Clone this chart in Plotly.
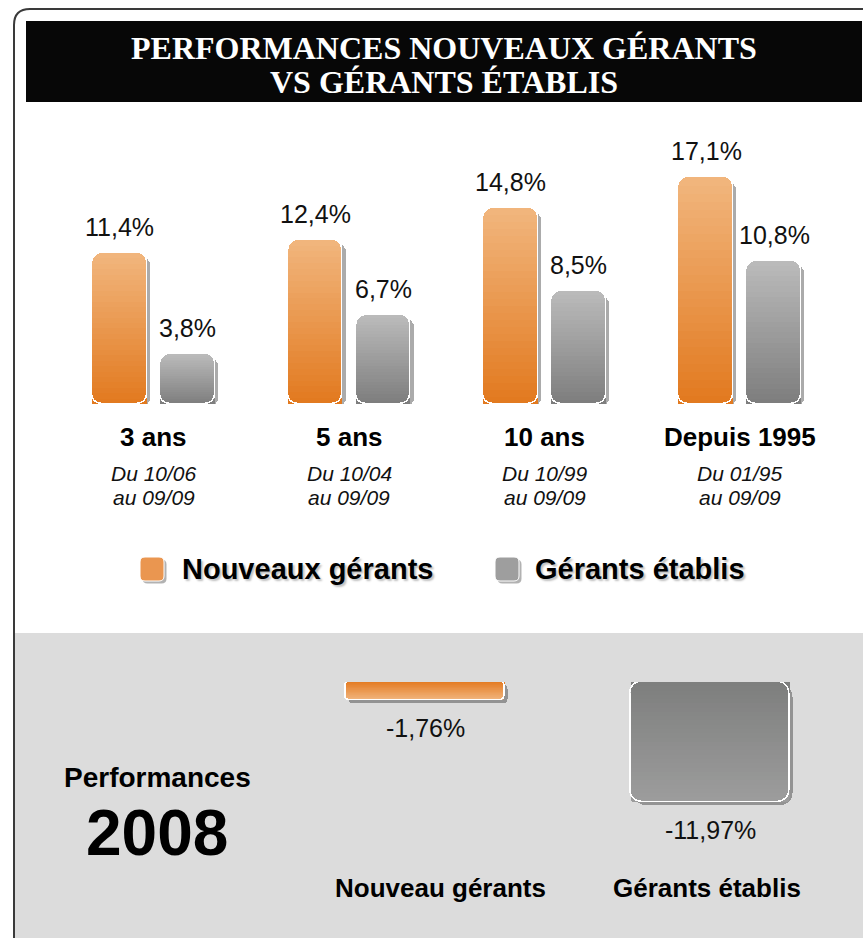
import numpy as np
import plotly.graph_objects as go

W, H = 863, 938

# ---------------- data ----------------
title_lines = ["PERFORMANCES NOUVEAUX GÉRANTS", "VS GÉRANTS ÉTABLIS"]
periods = ["3 ans", "5 ans", "10 ans", "Depuis 1995"]
start_dates = ["10/06", "10/04", "10/99", "01/95"]
end_dates = ["09/09", "09/09", "09/09", "09/09"]
series_names = ["Nouveaux gérants", "Gérants établis"]
nouveaux = [11.4, 12.4, 14.8, 17.1]
etablis = [3.8, 6.7, 8.5, 10.8]
perf2008_title = "Performances"
perf2008_year = "2008"
perf2008_labels = ["Nouveau gérants", "Gérants établis"]
perf2008 = [-1.76, -11.97]


def px(x):
    return x / W


def py(y):
    return 1 - y / H


def hex2rgb(h):
    h = h.lstrip("#")
    return [int(h[i:i + 2], 16) for i in (0, 2, 4)]


def lerp(c1, c2, t):
    a, b = hex2rgb(c1), hex2rgb(c2)
    return "rgb(%d,%d,%d)" % tuple(round(a[i] + (b[i] - a[i]) * t) for i in range(3))


def rrect(x0, y0, x1, y1, r):
    return (f"M {px(x0 + r)},{py(y0)} L {px(x1 - r)},{py(y0)} "
            f"Q {px(x1)},{py(y0)} {px(x1)},{py(y0 + r)} L {px(x1)},{py(y1 - r)} "
            f"Q {px(x1)},{py(y1)} {px(x1 - r)},{py(y1)} L {px(x0 + r)},{py(y1)} "
            f"Q {px(x0)},{py(y1)} {px(x0)},{py(y1 - r)} L {px(x0)},{py(y0 + r)} "
            f"Q {px(x0)},{py(y0)} {px(x0 + r)},{py(y0)} Z")


def fmt(v, d):
    return (f"{v:.{d}f}").replace(".", ",") + "%"


K = 28
fig = go.Figure()

# ---------------- top chart ----------------
pos = np.arange(len(periods))
dx = [-0.174, 0.174]
bw = 0.28
top_series = [
    (nouveaux, "#E27A20", "#F1B57C"),
    (etablis, "#7E7E7E", "#BABABA"),
]
for s, (vals, c_base, c_tip) in enumerate(top_series):
    xs = pos + dx[s]
    fig.add_trace(go.Bar(x=xs + 0.017, y=vals, base=-0.24, width=bw, xaxis="x", yaxis="y",
                         marker=dict(color="rgba(0,0,0,0.33)", line=dict(width=0), cornerradius=10),
                         hoverinfo="skip", showlegend=False))
for s, (vals, c_base, c_tip) in enumerate(top_series):
    xs = pos + dx[s]
    for j in range(K):
        fig.add_trace(go.Bar(x=xs, y=[v / K for v in vals], width=bw, xaxis="x", yaxis="y",
                             marker=dict(color=lerp(c_base, c_tip, j / (K - 1)), line=dict(width=0),
                                         cornerradius=10),
                             hoverinfo="skip", showlegend=False))
for s, (vals, c_base, c_tip) in enumerate(top_series):
    xs = pos + dx[s]
    fig.add_trace(go.Bar(x=xs, y=vals, base=0, width=bw, xaxis="x", yaxis="y",
                         marker=dict(color="rgba(0,0,0,0)", line=dict(color="white", width=1.5),
                                     cornerradius=10),
                         hoverinfo="skip", showlegend=False))

# ---------------- bottom chart ----------------
pos2 = np.arange(len(perf2008))
bw2 = 0.558
bot_colors = [("#E47B22", "#F0B27A", 4), ("#7E7F7E", "#9C9C9C", 12)]
for k in range(len(perf2008)):
    c_base, c_tip, rad = bot_colors[k]
    fig.add_trace(go.Bar(x=[pos2[k] + 0.012], y=[perf2008[k]], base=-0.3, width=bw2, xaxis="x2", yaxis="y2",
                         marker=dict(color="rgba(0,0,0,0.33)", line=dict(width=0), cornerradius=rad),
                         hoverinfo="skip", showlegend=False))
for k in range(len(perf2008)):
    c_base, c_tip, rad = bot_colors[k]
    for j in range(K):
        fig.add_trace(go.Bar(x=[pos2[k]], y=[perf2008[k] / K], width=bw2, xaxis="x2", yaxis="y2",
                             marker=dict(color=lerp(c_base, c_tip, j / (K - 1)), line=dict(width=0),
                                         cornerradius=rad),
                             hoverinfo="skip", showlegend=False))
for k in range(len(perf2008)):
    c_base, c_tip, rad = bot_colors[k]
    fig.add_trace(go.Bar(x=[pos2[k]], y=[perf2008[k]], base=0, width=bw2, xaxis="x2", yaxis="y2",
                         marker=dict(color="rgba(0,0,0,0)", line=dict(color="white", width=1.5),
                                     cornerradius=rad),
                         hoverinfo="skip", showlegend=False))

# ---------------- shapes ----------------
shapes = [
    dict(type="rect", xref="paper", yref="paper", x0=px(15), x1=1, y0=0, y1=py(633),
         fillcolor="#DCDCDC", line=dict(width=0), layer="below"),
    dict(type="path", xref="paper", yref="paper",
         path=f"M {px(14)},0 L {px(14)},{py(25)} Q {px(14)},{py(9)} {px(30)},{py(9)} L 1,{py(9)}",
         line=dict(color="#3a3a3a", width=2), layer="below"),
    dict(type="rect", xref="paper", yref="paper", x0=px(26), x1=px(862), y0=py(102), y1=py(21),
         fillcolor="#070707", line=dict(width=0), layer="below"),
]
legend_icons = [(140, "#EA9650"), (495, "#9E9E9E")]
for x0, col in legend_icons:
    shapes.append(dict(type="path", xref="paper", yref="paper", path=rrect(x0 + 2.5, 559.5, x0 + 26.5, 583.5, 5),
                       fillcolor="rgba(0,0,0,0.3)", line=dict(width=0), layer="below"))
    shapes.append(dict(type="path", xref="paper", yref="paper", path=rrect(x0, 557, x0 + 24, 581, 5),
                       fillcolor=col, line=dict(color="white", width=1), layer="below"))

# ---------------- annotations ----------------
ann = []


def A(**kw):
    kw.setdefault("showarrow", False)
    kw.setdefault("xanchor", "center")
    kw.setdefault("yanchor", "middle")
    ann.append(kw)


A(text=title_lines[0], x=px(444), y=py(48), xref="paper", yref="paper",
  font=dict(family="Liberation Serif", size=32, color="white", weight="bold"))
A(text=title_lines[1], x=px(444), y=py(82), xref="paper", yref="paper",
  font=dict(family="Liberation Serif", size=32, color="white", weight="bold"))

for s, (vals, _, _) in enumerate(top_series):
    for i, v in enumerate(vals):
        A(text=fmt(v, 1), x=pos[i] + dx[s], y=v, xref="x", yref="y", yshift=26,
          font=dict(family="Liberation Sans", size=25, color="#111"))
for i, p in enumerate(periods):
    A(text=p, x=pos[i], y=py(437), xref="x", yref="paper",
      font=dict(family="Liberation Sans", size=26, color="#000", weight="bold"))
    A(text="Du " + start_dates[i], x=pos[i], y=py(474), xref="x", yref="paper",
      font=dict(family="Liberation Sans", size=21, color="#111", style="italic"))
    A(text="au " + end_dates[i], x=pos[i], y=py(497), xref="x", yref="paper",
      font=dict(family="Liberation Sans", size=21, color="#111", style="italic"))

for x0, name in zip([180, 533], series_names):
    A(text=name, x=px(x0), y=py(569), xref="paper", yref="paper", xanchor="left",
      font=dict(family="Liberation Sans", size=29, color="#000", weight="bold",
                shadow="2px 2px 2px rgba(0,0,0,0.25)"))

for k, v in enumerate(perf2008):
    A(text=fmt(v, 2), x=pos2[k], y=v, xref="x2", yref="y2", yshift=-28,
      font=dict(family="Liberation Sans", size=25, color="#111"))
for k, lab in enumerate(perf2008_labels):
    A(text=lab, x=pos2[k], y=py(888), xref="x2", yref="paper", xshift=[15, -3][k],
      font=dict(family="Liberation Sans", size=26, color="#000", weight="bold"))
A(text=perf2008_title, x=px(157), y=py(777), xref="paper", yref="paper",
  font=dict(family="Liberation Sans", size=28, color="#000", weight="bold"))
A(text=perf2008_year, x=px(157), y=py(833),
  xref="paper", yref="paper",
  font=dict(family="Liberation Sans Narrow, Liberation Sans", size=64, color="#000", weight="bold"))

hidden = dict(visible=False, showgrid=False, zeroline=False, fixedrange=True)
fig.update_layout(
    width=W, height=H,
    margin=dict(l=0, r=0, t=0, b=0),
    paper_bgcolor="white", plot_bgcolor="rgba(0,0,0,0)",
    barmode="stack", bargap=0,
    showlegend=False,
    xaxis=dict(domain=[56.3 / W, 837.7 / W], range=[-0.5, 3.5], anchor="y", **hidden),
    yaxis=dict(domain=[py(404), py(139)], range=[0, 20], anchor="x", **hidden),
    xaxis2=dict(domain=[282.5 / W, 852.5 / W], range=[-0.5, 1.5], anchor="y2", **hidden),
    yaxis2=dict(domain=[py(822), py(682)], range=[-14, 0], anchor="x2", **hidden),
    shapes=shapes,
    annotations=ann,
)

fig.write_html("out.html", config={"displayModeBar": False},
               post_script="document.body.style.margin='0';document.body.style.overflow='hidden';")
